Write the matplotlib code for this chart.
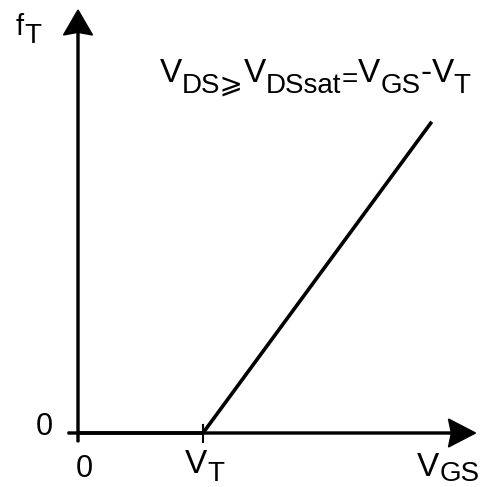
import matplotlib.pyplot as plt
from matplotlib.transforms import offset_copy

plt.rcParams['font.family'] = ['Liberation Sans', 'DejaVu Sans']

# data (V_T = 1)
vgs = [0, 1, 2.83]
ft = [0, 0, 2.49]
vt = 1
xticks = [0, vt]

fig = plt.figure(figsize=(4.82, 4.87), dpi=100)
ax = fig.add_axes([0, 0, 1, 1])
ax.set_xlim(-0.624, 3.232)
ax.set_ylim(-0.432, 3.464)
ax.axis('off')
renderer = fig.canvas.get_renderer()


def rich(x, y, parts):
    # parts: (text, fontsize, vertical shift in pixels)
    dx = 0
    for s, fs, dy in parts:
        tr = offset_copy(ax.transData, fig=fig, x=dx, y=dy, units='dots')
        t = ax.text(x, y, s, fontsize=fs, ha='left', va='baseline', transform=tr)
        dx += t.get_window_extent(renderer).width


# axes with arrows
ax.arrow(-0.08, 0, 3.26, 0, width=0.016, head_width=0.224, head_length=0.216,
         length_includes_head=True, overhang=0.1, color='black')
ax.arrow(0, -0.07, 0, 3.454, width=0.016, head_width=0.232, head_length=0.2,
         length_includes_head=True, overhang=0.1, color='black')
ax.plot([vt, vt], [-0.07, 0.065], color='black', lw=1.5)

# f_T curve
ax.plot(vgs, ft, color='black', lw=2.6, solid_capstyle='butt')

# labels
rich(-0.496, 3.184, [('f', 21, 0), ('T', 20, -8)])
rich(0.656, 2.808, [('V', 24, 0), ('DS⩾', 20, -11), ('V', 24, 0),
                    ('DSsat', 20, -11), ('=', 20, -5), ('V', 24, 0),
                    ('GS', 20, -11), ('-', 24, 0), ('V', 24, 0), ('T', 20, -11)])
ax.text(-0.2, -0.016, '0', fontsize=22, ha='right', va='baseline')
ax.text(xticks[0] + 0.05, -0.35, '0', fontsize=22, ha='center', va='baseline')
rich(xticks[1] - 0.144, -0.32, [('V', 24, 0), ('T', 20, -8)])
rich(2.712, -0.344, [('V', 24, 0), ('GS', 20, -5)])

plt.savefig('out.png', dpi=100)
